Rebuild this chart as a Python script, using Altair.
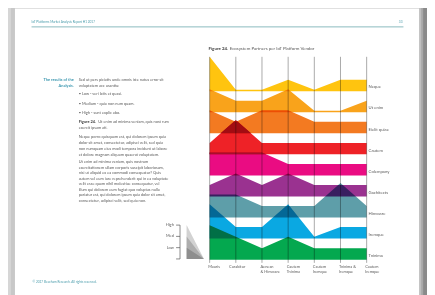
import altair as alt
import pandas as pd

# ---------------- data ----------------
x_line1 = ["Mauris", "Curabitur", "Aenean", "Cautem", "Cautem", "Tninima &", "Cautem"]
x_line2 = ["", "", "& Hinvoare", "Tninima", "Iremque", "Iremque", "Iremque"]

series = ["Neque", "Ut enim", "Eielit quiae", "Cautem", "Colempany",
          "Gachitects", "Hinvoare", "Iremque", "Tninima"]
colors = ["#FFC40F", "#F9A31B", "#F37A21", "#EE2227", "#EA0C82",
          "#9A3290", "#5E9EA9", "#0AA8E2", "#04A84F"]

neque      = [3, 0.12, 0.12, 1, 0.12, 1, 1]
ut_enim    = [2, 1, 1, 2, 0.12, 0.12, 1]
eielit     = [2, 1, 2, 2, 1, 1, 1]
cautem     = [1, 3, 1, 1, 1, 1, 1]
colempany  = [2, 2, 2, 1, 1, 1, 1]
gachitects = [1, 2, 1, 2, 1, 1, 1]
hinvoare   = [2, 2, 1, 1, 1, 3, 1]
iremque    = [3, 1, 1, 3, 0.15, 1, 1]
tninima    = [3, 2, 1, 2, 1, 1, 1]
series_values = [neque, ut_enim, eielit, cautem, colempany,
                 gachitects, hinvoare, iremque, tninima]

# overlaps that the original shades dark red: (upper band, lower band, colour)
dark_overlaps = [("Eielit quiae", "Cautem", "#A30C12"),
                 ("Cautem", "Colempany", "#A80E2C")]

levels = ["Low", "Med", "High"]
level_values = [1, 2, 3]

header_left = "IoT Platforms Market Analysis Report H1 2017"
header_right = "33"
footer = "\u00a9 2017 Beecham Research. All rights reserved."
chart_title_bold = "Figure 24."
chart_title = "Ecosystem Partners per IoT Platform Vendor"
side_heading = ["The results of the", "Analysis."]
intro = ["Sed ut pers piciatis unde omnis iste natus error sit",
         "voluptatem acc usantiu:"]
bullets = ["\u2022  Low - veri latis et quasi.",
           "\u2022  Medium - quia non num quam.",
           "\u2022  High - sunt explic abo."]
note_bold = "Figure 24."
note = ["Ut enim ad minima veniam, quis nost rum", "exercit ipsam ati."]
para1 = ["Neque porro quisquam est, qui dolorem ipsum quia",
         "dolor sit amet, consectetur, adipisci velit, sed quia",
         "non numquam eius modi tempora incidunt ut labore",
         "et dolore magnam aliquam quaerat voluptatem."]
para2 = ["Ut enim ad minima veniam, quis nostrum",
         "exercitationem ullam corporis suscipit laboriosam,",
         "nisi ut aliquid ex ea commodi consequatur? Quis",
         "autem vel eum iure reprehenderit qui in ea voluptate",
         "velit esse quam nihil molestiae consequatur, vel",
         "illum qui dolorem eum fugiat quo voluptas nulla",
         "pariatur est, qui dolorem ipsum quia dolor sit amet,",
         "consectetur, adipisci velit, sed quia non."]

# ---------------- layout helpers ----------------
OFF = 8
def px(v):
    return v - OFF

FONT = "Lato"
TEXT = "#5a5a5a"
TEAL = "#4a9cab"
UNIT = 11.7          # pixels per level unit
ROW = 1.834          # ridge spacing in level units
N = len(series)

bases = {s: (N - 1 - i) * ROW for i, s in enumerate(series)}
vals_of = dict(zip(series, series_values))

rows = []
for s in series:
    for j, v in enumerate(vals_of[s]):
        rows.append({"series": s, "idx": j, "base": bases[s], "top": bases[s] + v})
df = pd.DataFrame(rows)
df_lab = pd.DataFrame({"series": series, "base": [bases[s] for s in series]})
df_x = pd.DataFrame({"idx": list(range(len(x_line1))), "l1": x_line1, "l2": x_line2})
# "Curabitur" sits a little left of its grid line in the original layout
df_x["lx"] = [i - 0.2 if t == "Curabitur" else i for i, t in zip(df_x["idx"], df_x["l1"])]


def overlap_rows(upper, lower):
    """Exact polygon of the region where the lower ridge rises into the upper band."""
    bu, bl = bases[upper], bases[lower]
    U = [bu + v for v in vals_of[upper]]
    L = [bl + v for v in vals_of[lower]]
    out = []
    for j in range(len(U) - 1):
        ts = {0.0, 1.0}
        dL = L[j + 1] - L[j]
        if dL != 0:
            t = (bu - L[j]) / dL
            if 0 < t < 1:
                ts.add(t)
        dD = (U[j + 1] - L[j + 1]) - (U[j] - L[j])
        if dD != 0:
            t = -(U[j] - L[j]) / dD
            if 0 < t < 1:
                ts.add(t)
        for t in sorted(ts):
            u = U[j] + t * (U[j + 1] - U[j])
            l = L[j] + t * (L[j + 1] - L[j])
            out.append({"x": j + t, "top": max(bu, min(u, l)), "base": bu})
    return out


ymax = 18
y_scale = alt.Scale(domain=[0, ymax], range=[px(261.7), px(261.7) - ymax * UNIT], nice=False, zero=False)
x_scale = alt.Scale(domain=[0, 6], range=[px(213.5), px(373.5)], nice=False, zero=False)

one = pd.DataFrame({"a": [0]})

def rect(x1, x2, y1, y2, color, opacity=1):
    return alt.Chart(one).mark_rect(color=color, opacity=opacity).encode(
        x=alt.value(px(x1)), x2=alt.value(px(x2)), y=alt.value(px(y1)), y2=alt.value(px(y2)))

def hline(x1, x2, y, color, w=0.8):
    return alt.Chart(one).mark_rule(color=color, strokeWidth=w).encode(
        x=alt.value(px(x1)), x2=alt.value(px(x2)), y=alt.value(px(y)))

def vline(x, y1, y2, color, w=0.8):
    return alt.Chart(one).mark_rule(color=color, strokeWidth=w).encode(
        x=alt.value(px(x)), y=alt.value(px(y1)), y2=alt.value(px(y2)))

def text_lines(lines, x, y0, step, size=4, color=TEXT, align="left", weight="normal"):
    d = pd.DataFrame({"t": lines})
    d["yy"] = [px(y0 + step * k) for k in range(len(lines))]
    return alt.Chart(d).mark_text(align=align, baseline="middle", font=FONT, fontSize=size,
                                  color=color, fontWeight=weight).encode(
        x=alt.value(px(x)), y=alt.Y("yy:Q", scale=None, axis=None), text="t:N")

layers = []
# page and shadow
layers.append(rect(15, 427, 6, 300, "white"))
layers.append(rect(11, 15, 0, 300, "#c8c8c8"))
layers.append(rect(427, 429, 0, 300, "#c0c0c0"))
layers.append(rect(429, 431, 0, 300, "#a8a8a8"))
layers.append(rect(431, 435, 0, 300, "#8a8a8a"))

# header / footer
layers.append(text_lines([header_left], 32, 20, 0, size=3.2, color=TEAL))
layers.append(text_lines([header_right], 410, 20, 0, size=3.2, color=TEAL, align="right"))
layers.append(hline(32, 411, 24.5, "#7db3b6", 0.9))
layers.append(text_lines([footer], 33, 285, 0, size=3.2, color=TEAL))

# left column text
layers.append(text_lines(side_heading, 75, 78.3, 6, size=4, color="#3d98b0", align="right", weight="bold"))
layers.append(text_lines(intro, 80, 78.3, 6, size=4))
layers.append(text_lines(bullets[:1], 80, 93.3, 0, size=4))
layers.append(text_lines(bullets[1:2], 80, 103.3, 0, size=4))
layers.append(text_lines(bullets[2:], 80, 112.3, 0, size=4))
layers.append(text_lines([note_bold], 80, 121.7, 0, size=4, weight="bold", color="#444"))
layers.append(text_lines(note[:1], 100, 121.7, 0, size=4))
layers.append(text_lines(note[1:], 80, 127.7, 0, size=4))
layers.append(text_lines(para1, 80, 136.7, 6.1, size=4))
layers.append(text_lines(para2, 80, 162.3, 5.6, size=4))

# chart title
layers.append(text_lines([chart_title_bold], 212.3, 47.3, 0, size=4.5, weight="bold", color="#444"))
layers.append(text_lines([chart_title], 234, 47.3, 0, size=4.5))

# ridge areas
areas = alt.Chart(df).mark_area(blend="multiply", interpolate="linear").encode(
    x=alt.X("idx:Q", scale=x_scale, axis=None),
    y=alt.Y("top:Q", scale=y_scale, axis=None),
    y2="base:Q",
    color=alt.Color("series:N", scale=alt.Scale(domain=series, range=colors), legend=None),
)
layers.append(areas)

for upper, lower, col in dark_overlaps:
    d = pd.DataFrame(overlap_rows(upper, lower))
    layers.append(alt.Chart(d).mark_area(color=col, interpolate="linear").encode(
        x=alt.X("x:Q", scale=x_scale, axis=None),
        y=alt.Y("top:Q", scale=y_scale, axis=None),
        y2="base:Q"))

grid = alt.Chart(df_x).mark_rule(color="#8c8c8c", strokeWidth=0.75, blend="multiply").encode(
    x=alt.X("idx:Q", scale=x_scale, axis=None),
    y=alt.value(px(55)), y2=alt.value(px(265)))
layers.append(grid)

labels = alt.Chart(df_lab).mark_text(align="left", baseline="middle", font=FONT, fontSize=4.3,
                                     color=TEXT, dy=-3.8).encode(
    x=alt.value(px(375.5)),
    y=alt.Y("base:Q", scale=y_scale, axis=None),
    text="series:N")
layers.append(labels)

for col, yy in [("l1", 269.5), ("l2", 274.5)]:
    layers.append(alt.Chart(df_x).mark_text(align="left", baseline="middle", font=FONT, fontSize=4,
                                           color=TEXT, dx=-1.5).encode(
        x=alt.X("lx:Q", scale=x_scale, axis=None),
        y=alt.value(px(yy)),
        text=f"{col}:N"))

# level legend (Low / Med / High)
tri_rows = []
for lv, v in zip(levels, level_values):
    tri_rows.append({"level": lv, "lx": 0, "ly": v, "b": 0})
    tri_rows.append({"level": lv, "lx": 1, "ly": 0, "b": 0})
df_tri = pd.DataFrame(tri_rows)
ly_scale = alt.Scale(domain=[0, 3], range=[px(261), px(261) - 3 * 11.5], nice=False, zero=False)
lx_scale = alt.Scale(domain=[0, 1], range=[px(190), px(207.7)], nice=False, zero=False)
tri = alt.Chart(df_tri).mark_area(blend="multiply", color="#d2d2d2").encode(
    x=alt.X("lx:Q", scale=lx_scale, axis=None),
    y=alt.Y("ly:Q", scale=ly_scale, axis=None),
    y2="b:Q",
    detail="level:N")
layers.append(tri)

df_lv = pd.DataFrame({"level": levels, "v": level_values})
layers.append(alt.Chart(df_lv).mark_text(align="right", baseline="middle", font=FONT, fontSize=4,
                                         color=TEXT).encode(
    x=alt.value(px(177)), y=alt.Y("v:Q", scale=ly_scale, axis=None), text="level:N"))
df_tick = pd.DataFrame({"v": [0] + level_values})
layers.append(alt.Chart(df_tick).mark_rule(color="#555", strokeWidth=0.7).encode(
    x=alt.value(px(179.3)), x2=alt.value(px(183.3)), y=alt.Y("v:Q", scale=ly_scale, axis=None)))
layers.append(vline(183.3, 226.5, 261, "#555", 0.7))

chart = alt.layer(*layers).resolve_scale(
    x="independent", y="independent", color="independent"
).properties(
    width=427, height=287, padding=0, autosize="none", background="#d6d6d6"
).configure_view(stroke=None)

chart.save("out.html", embed_options={"renderer": "svg", "actions": False})
